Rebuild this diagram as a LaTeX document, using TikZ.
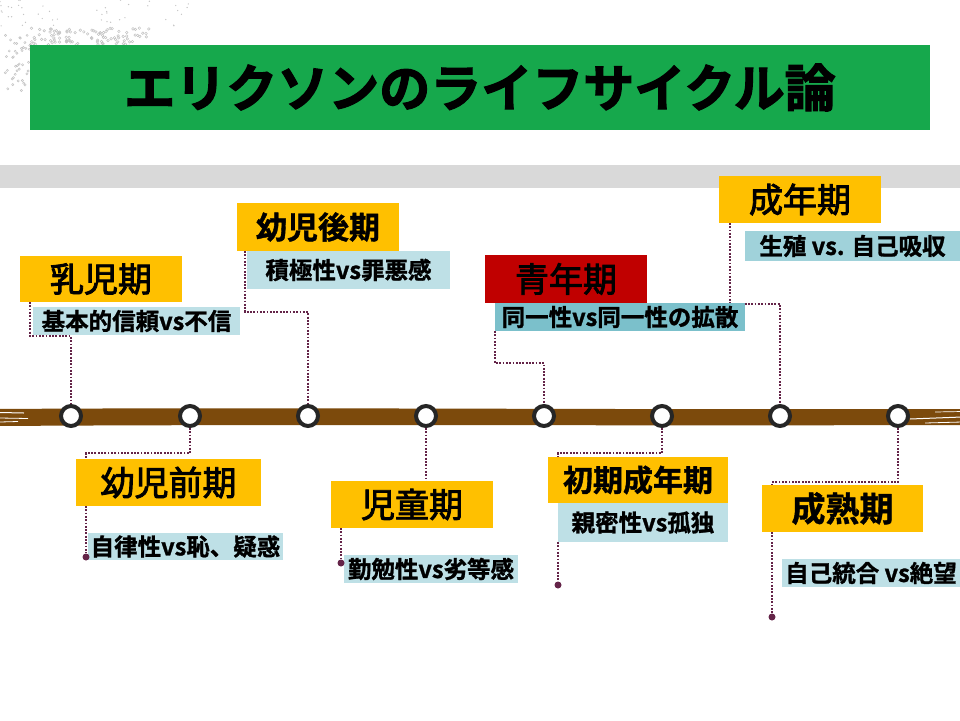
\documentclass[tikz,border=0pt]{standalone}
\usepackage{fontspec}
\setmainfont{Noto Sans CJK JP}
\newfontfamily\jpmed{Noto Sans CJK JP}[FakeBold=2.5]
\newfontfamily\jpbold{Noto Sans CJK JP Bold}[FakeBold=1.2]
\newfontfamily\jpblack{Noto Sans CJK JP Bold}[FakeBold=2.2]
\usetikzlibrary{calc}
\definecolor{titlegreen}{HTML}{16A84C}
\definecolor{graybar}{HTML}{D9D9D9}
\definecolor{orangebox}{HTML}{FFC000}
\definecolor{redbox}{HTML}{C00000}
\definecolor{lblueA}{HTML}{BEE0E6}
\definecolor{lblueB}{HTML}{A0D2DA}
\definecolor{lblueC}{HTML}{7BC0CB}
\definecolor{brush}{HTML}{7C4A0C}
\definecolor{ringc}{HTML}{262626}
\definecolor{connc}{HTML}{642448}
\definecolor{spray}{HTML}{C4C4C4}
\pgfdeclarelayer{bg}
\pgfsetlayers{bg,main}
\tikzset{
  boxbase/.style={inner sep=0pt, outer sep=0pt, anchor=north west, text=black, align=center},
  headbox/.style={boxbase, fill=orangebox},
  redhead/.style={boxbase, fill=redbox},
  subA/.style={boxbase, fill=lblueA, font=\jpbold\fontsize{23.5pt}{24pt}\selectfont},
  subB/.style={boxbase, fill=lblueB, font=\jpbold\fontsize{23.5pt}{24pt}\selectfont},
  subC/.style={boxbase, fill=lblueC, font=\jpbold\fontsize{23.5pt}{24pt}\selectfont},
  headmed/.style={font=\jpmed\fontsize{34pt}{34pt}\selectfont},
  headbold/.style={font=\jpbold\fontsize{#1}{34pt}\selectfont},
  ring/.style={circle, draw=ringc, line width=4pt, fill=white, minimum size=20pt, inner sep=0pt},
  conn/.style={draw=connc, line width=2.3pt, dash pattern=on 1.8pt off 1.5pt},
  enddot/.style={circle, fill=connc, minimum size=7pt, inner sep=0pt},
}
\begin{document}
\begin{tikzpicture}[x=1pt,y=-1pt]
\useasboundingbox (0,0) rectangle (960,720);
\begin{pgfonlayer}{bg}
\fill[white] (0,0) rectangle (960,720);
% spray dots in the top-left corner
\pgfmathsetseed{11}
\foreach \i in {1,...,110}{
  \pgfmathsetmacro\px{30+rnd*120}
  \pgfmathsetmacro\py{28+rnd*20}
  \draw[spray, line width=0.5pt] (\px,\py) circle (1.3pt);
}
\foreach \i in {1,...,40}{
  \pgfmathsetmacro\px{5+rnd*25}
  \pgfmathsetmacro\py{35+rnd*60}
  \draw[spray, line width=0.5pt] (\px,\py) circle (1.1pt);
}
\foreach \i in {1,...,45}{
  \pgfmathsetmacro\px{rnd*190}
  \pgfmathsetmacro\py{rnd*26}
  \fill[spray] (\px,\py) circle (0.7pt);
}
% gray band
\fill[graybar] (0,165) rectangle (960,188);
% brush stroke timeline
\fill[brush] (-2,409) .. controls (300,407) and (600,410) .. (962,409) -- (962,425) .. controls (600,426) and (300,424) .. (-2,426) -- cycle;
\draw[white, line width=1pt] (0,412.5) -- (24,413);
\draw[white, line width=0.8pt] (0,418) -- (28,418.5);
\draw[white, line width=0.8pt] (0,422) -- (18,421.5);
\draw[white, line width=1pt] (910,419) -- (962,417);
\draw[white, line width=0.7pt] (935,412) -- (962,411.5);
\draw[white, line width=0.8pt] (925,423) -- (962,422);
\end{pgfonlayer}

% title
\node[boxbase, fill=titlegreen, minimum width=900pt, minimum height=85pt,
      font=\jpblack\fontsize{51pt}{51pt}\selectfont] (title) at (30,45) {エリクソンのライフサイクル論};

% timeline rings
\foreach \n/\x in {1/71,2/190,3/308,4/426,5/544,6/662,7/780,8/898}{
  \node[ring] (c\n) at (\x,416) {};
}

% stage boxes
\node[headbox, headmed, minimum width=162pt, minimum height=46pt] (h1) at (20,256) {乳児期};
\node[subA, minimum width=207pt, minimum height=28pt] (b1) at (33,307) {基本的信頼vs不信};

\node[headbox, headmed, minimum width=185pt, minimum height=47pt] (h2) at (76,459) {幼児前期};
\node[subA, minimum width=195pt, minimum height=27pt] (b2) at (88,533) {自律性vs恥、疑惑};

\node[headbox, headbold=31pt, minimum width=162pt, minimum height=48pt] (h3) at (237,203) {幼児後期};
\node[subA, minimum width=203pt, minimum height=38pt] (b3) at (247,251) {積極性vs罪悪感};

\node[headbox, headmed, minimum width=162pt, minimum height=47pt] (h4) at (331,481) {児童期};
\node[subA, minimum width=174pt, minimum height=28pt] (b4) at (344,555) {勤勉性vs劣等感};

\node[redhead, headmed, minimum width=162pt, minimum height=48pt] (h5) at (485,255) {青年期};
\node[subC, minimum width=250pt, minimum height=28pt] (b5) at (495,303) {同一性vs同一性の拡散};

\node[headbox, headbold=30pt, minimum width=180pt, minimum height=46pt] (h6) at (548,457) {初期成年期};
\node[subA, minimum width=170pt, minimum height=39pt] (b6) at (558,503) {親密性vs孤独};

\node[headbox, headmed, minimum width=162pt, minimum height=47pt] (h7) at (719,176) {成年期};
\node[subB, minimum width=215pt, minimum height=30pt] (b7) at (745,231) {生殖 vs. 自己吸収};

\node[headbox, headbold=34pt, minimum width=161pt, minimum height=47pt] (h8) at (762,485) {成熟期};
\node[subA, minimum width=178pt, minimum height=28pt] (b8) at (782,559) {自己統合 vs絶望};

% end dots
\node[enddot] (d2) at (86,557) {};
\node[enddot] (d4) at (341,563) {};
\node[enddot] (d6) at (558,585) {};
\node[enddot] (d8) at (772,617) {};

% connectors
\begin{pgfonlayer}{bg}
\draw[conn] ($(h1.south west)+(10,0)$) -- ($(h1.south west)+(10,34)$) -| (c1.north);
\draw[conn] (c2.south) |- ($(h2.north west)+(10,-6)$) -- ($(h2.north west)+(10,0)$);
\draw[conn] ($(h2.south west)+(10,0)$) -- (d2);
\draw[conn] ($(h3.south west)+(8,0)$) -- ($(h3.south west)+(8,61)$) -| (c3.north);
\draw[conn] (c4.south) -- (c4.south |- h4.north);
\draw[conn] ($(h4.south west)+(10,0)$) -- (d4);
\draw[conn] (b5.south west) -- ($(b5.south west)+(0,32)$) -| (c5.north);
\draw[conn] (c6.south) |- ($(h6.north west)+(10,-4)$) -- ($(h6.north west)+(10,0)$);
\draw[conn] (b6.south west) -- (d6);
\draw[conn] ($(h7.south west)+(11,0)$) -- ($(h7.south west)+(11,81)$) -| (c7.north);
\draw[conn] (c8.south) |- ($(h8.north west)+(10,-3)$) -- ($(h8.north west)+(10,0)$);
\draw[conn] ($(h8.south west)+(10,0)$) -- (d8);
\end{pgfonlayer}
\end{tikzpicture}
\end{document}
